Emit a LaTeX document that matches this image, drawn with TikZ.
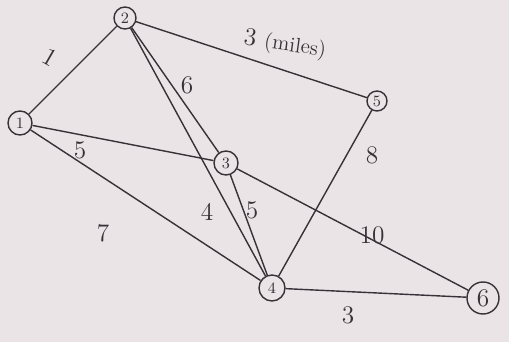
\documentclass[tikz,border=0pt]{standalone}
\usetikzlibrary{positioning}
\definecolor{paper}{RGB}{234,228,230}
\definecolor{pencil}{RGB}{55,50,55}
\tikzset{
  vertex/.style={circle,draw=pencil,thick,inner sep=0pt,font=\small,text=pencil},
  weight/.style={font=\Large,text=pencil},
  road/.style={draw=pencil,thick}
}

\begin{document}
\begin{tikzpicture}
\fill[paper] (0,0) rectangle (10.18,6.84);
\useasboundingbox (0,0) rectangle (10.18,6.84);

\node[vertex,minimum size=0.48cm] (V1) at (0.40,4.38) {1};
\node[vertex,minimum size=0.44cm] (V2) at (2.50,6.48) {2};
\node[vertex,minimum size=0.48cm] (V3) at (4.52,3.58) {3};
\node[vertex,minimum size=0.52cm] (V4) at (5.44,1.08) {4};
\node[vertex,minimum size=0.40cm] (V5) at (7.54,4.82) {5};
\node[vertex,minimum size=0.64cm,font=\Large] (V6) at (9.66,0.88) {6};

\draw[road] (V1) -- (V2);
\draw[road] (V2) -- (V5);
\draw[road] (V2) -- (V3);
\draw[road] (V2) -- (V4);
\draw[road] (V1) -- (V3);
\draw[road] (V1) -- (V4);
\draw[road] (V3) -- (V4);
\draw[road] (V5) -- (V4);
\draw[road] (V3) -- (V6);
\draw[road] (V4) -- (V6);

\node[weight,rotate=-30] (W12) at (1.00,5.70) {1};
\node[weight,rotate=-8] (W25) at (5.70,5.94) {3 {\large(miles)}};
\node[weight] (W23) at (3.74,5.14) {6};
\node[weight] (W13) at (1.60,3.84) {5};
\node[weight] (W14) at (2.06,2.18) {7};
\node[weight] (W24) at (4.14,2.60) {4};
\node[weight] (W34) at (5.04,2.64) {5};
\node[weight] (W54) at (7.44,3.74) {8};
\node[weight] (W36) at (7.44,2.14) {10};
\node[weight] (W46) at (6.96,0.54) {3};

\end{tikzpicture}
\end{document}
